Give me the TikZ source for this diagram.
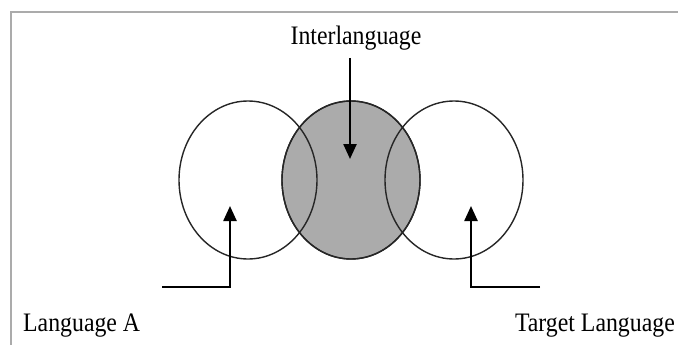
\documentclass[tikz,border=0pt]{standalone}
\usepackage{fontspec}
\setmainfont{Liberation Serif}
\usetikzlibrary{shapes.geometric,arrows.meta}
\begin{document}
\begin{tikzpicture}[x=1pt,y=-1pt,
  lbl/.style={font=\fontsize{23.8}{28}\selectfont, inner sep=0pt, yscale=1.12},
  ring/.style={ellipse, draw=black!85, line width=1.4pt, minimum width=138pt, minimum height=158pt, inner sep=0pt},
  conn/.style={line width=2.4pt, black},
  pointer/.style={conn, -{Triangle[width=13pt,length=15pt]}}
]
\useasboundingbox (0,0) rectangle (678,345);
% frame
\draw[line width=1.5pt, black!33] (11,345) -- (11,12) -- (678,12);
% circles
\node[ring, fill=black!33] (mid) at (351,180) {};
\node[ring] (left) at (248,180) {};
\node[ring] (right) at (454,180) {};
\node[ring, fill=none] at (351,180) {};
% labels
\node[lbl, anchor=base] (inter) at (356,45) {Interlanguage};
\node[lbl, anchor=base west] (langA) at (23,331) {Language A};
\node[lbl, anchor=base east] (target) at (675,331) {Target Language};
% connector points
\coordinate (downstart) at (350,58);
\coordinate (downtip) at (350,159);
\coordinate (lstart) at (162,287);
\coordinate (lcorner) at (230,287);
\coordinate (ltip) at (230,206);
\coordinate (rstart) at (540,287);
\coordinate (rcorner) at (471,287);
\coordinate (rtip) at (471,206);
% arrows
\draw[pointer] (downstart) -- (downtip);
\draw[pointer] (lstart) -- (lcorner) -- (ltip);
\draw[pointer] (rstart) -- (rcorner) -- (rtip);
\end{tikzpicture}
\end{document}
